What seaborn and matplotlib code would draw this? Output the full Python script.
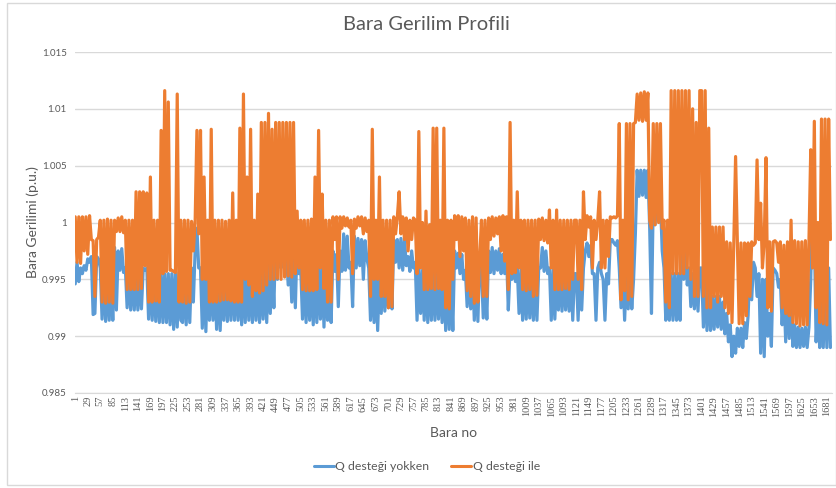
import numpy as np
import pandas as pd
import matplotlib
matplotlib.use("Agg")
import matplotlib.pyplot as plt
import seaborn as sns
from matplotlib.lines import Line2D
from matplotlib.patches import Rectangle

# Bus voltages (p.u.), sampled every 4th bus
q_ile = [
    1.0005, 0.9965, 1.0005, 0.9964, 1.0005, 0.9975, 1.0005, 0.9972, 1.0006, 0.9985,
    0.9984, 0.9935, 0.9985, 0.9987, 1.0002, 0.9930, 1.0002, 0.9929, 1.0003, 0.9930,
    1.0002, 0.9929, 1.0002, 0.9992, 1.0004, 0.9992, 1.0005, 0.9991, 1.0002, 0.9941,
    1.0002, 0.9941, 1.0002, 0.9941, 1.0027, 0.9941, 1.0027, 0.9942, 1.0027, 0.9962,
    1.0026, 0.9930, 1.0040, 0.9930, 1.0002, 0.9931, 1.0002, 0.9930, 1.0081, 0.9955,
    1.0116, 0.9957, 1.0106, 0.9958, 0.9958, 0.9957, 0.9956, 1.0113, 0.9930, 1.0002,
    0.9930, 1.0002, 0.9929, 1.0002, 0.9930, 1.0001, 0.9975, 1.0000, 1.0081, 0.9990,
    1.0081, 0.9950, 1.0040, 0.9950, 1.0002, 0.9930, 1.0082, 0.9930, 1.0002, 0.9930,
    1.0002, 0.9931, 1.0002, 0.9932, 1.0001, 0.9932, 1.0002, 0.9931, 1.0026, 0.9930,
    1.0002, 0.9930, 1.0083, 0.9930, 1.0113, 0.9950, 1.0040, 0.9945, 1.0082, 0.9935,
    1.0002, 0.9940, 1.0025, 0.9938, 1.0088, 0.9940, 1.0088, 0.9945, 1.0096, 0.9950,
    1.0082, 0.9950, 1.0088, 0.9951, 1.0088, 0.9950, 1.0088, 0.9952, 1.0088, 0.9953,
    1.0088, 0.9952, 1.0088, 0.9955, 1.0010, 0.9960, 1.0002, 0.9941, 1.0002, 0.9940,
    1.0002, 0.9940, 1.0003, 0.9940, 1.0040, 0.9941, 1.0081, 0.9960, 1.0025, 0.9942,
    1.0002, 0.9930, 1.0002, 0.9930, 1.0005, 0.9985, 1.0005, 0.9950, 1.0005, 0.9995,
    1.0005, 0.9997, 1.0004, 0.9996, 1.0002, 0.9955, 1.0003, 0.9995, 1.0005, 0.9997,
    1.0005, 0.9990, 1.0004, 0.9992, 1.0002, 0.9935, 1.0082, 0.9950, 1.0002, 0.9950,
    1.0040, 0.9935, 1.0002, 0.9935, 1.0002, 0.9925, 1.0002, 0.9926, 1.0005, 0.9990,
    1.0005, 1.0027, 0.9990, 1.0005, 0.9985, 1.0004, 0.9975, 1.0002, 0.9985, 1.0004,
    1.0002, 0.9955, 1.0080, 0.9960, 1.0000, 0.9941, 1.0010, 0.9941, 0.9998, 0.9942,
    1.0083, 0.9941, 1.0083, 0.9942, 1.0002, 0.9941, 1.0083, 0.9925, 1.0002, 0.9924,
    1.0002, 0.9950, 1.0006, 0.9985, 1.0006, 0.9970, 1.0005, 0.9975, 1.0004, 0.9940,
    1.0002, 0.9935, 1.0005, 0.9929, 1.0004, 0.9930, 0.9968, 1.0002, 0.9935, 1.0002,
    0.9935, 1.0004, 0.9985, 1.0005, 0.9988, 1.0004, 0.9990, 1.0005, 0.9975, 1.0006,
    0.9966, 1.0005, 0.9941, 1.0088, 0.9955, 1.0002, 0.9956, 1.0027, 0.9960, 1.0002,
    0.9941, 1.0002, 0.9940, 1.0002, 0.9941, 1.0002, 0.9935, 1.0002, 0.9936, 1.0003,
    0.9985, 1.0004, 0.9984, 1.0002, 0.9982, 1.0011, 0.9960, 1.0002, 0.9941, 1.0011,
    0.9941, 1.0002, 0.9941, 1.0002, 0.9942, 1.0002, 0.9941, 1.0002, 0.9950, 1.0002,
    1.0002, 0.9950, 1.0002, 0.9941, 1.0027, 0.9985, 1.0006, 0.9996, 1.0005, 0.9960,
    1.0002, 0.9985, 1.0002, 1.0027, 0.9960, 1.0002, 0.9960, 1.0002, 0.9970, 1.0005,
    1.0004, 1.0005, 1.0004, 1.0006, 1.0087, 0.9932, 1.0002, 0.9940, 1.0087, 0.9932,
    1.0087, 0.9935, 1.0087, 1.0088, 1.0113, 1.0090, 1.0114, 1.0089, 1.0115, 1.0090,
    1.0114, 1.0002, 0.9995, 1.0087, 0.9998, 1.0087, 1.0000, 1.0087, 0.9995, 1.0002,
    0.9930, 1.0002, 0.9925, 1.0116, 0.9955, 1.0116, 0.9955, 1.0116, 0.9955, 1.0116,
    0.9955, 1.0116, 0.9960, 1.0116, 0.9950, 1.0100, 0.9935, 1.0088, 0.9935, 1.0116,
    1.0116, 0.9935, 1.0116, 0.9925, 1.0083, 0.9925, 0.9996, 0.9935, 0.9996, 0.9930,
    0.9996, 0.9935, 0.9996, 0.9925, 0.9983, 0.9920, 0.9982, 0.9912, 0.9982, 1.0058,
    0.9982, 0.9911, 0.9982, 0.9911, 0.9982, 0.9918, 0.9982, 0.9935, 0.9983, 0.9980,
    0.9982, 1.0055, 0.9985, 1.0017, 0.9960, 0.9983, 1.0057, 0.9925, 0.9983, 0.9922,
    0.9983, 0.9984, 0.9982, 0.9965, 0.9983, 0.9925, 0.9980, 0.9920, 0.9983, 0.9918,
    1.0002, 0.9912, 0.9984, 0.9911, 0.9983, 0.9909, 0.9983, 0.9910, 0.9984, 0.9910,
    0.9984, 1.0064, 0.9960, 1.0089, 0.9925, 1.0000, 0.9912, 1.0091, 0.9911, 1.0091,
    0.9910, 1.0091, 0.9985,
]

q_yok = [
    0.9946, 0.9965, 0.9948, 0.9960, 0.9955, 0.9962, 0.9958, 0.9968, 0.9965, 0.9970,
    0.9919, 0.9920, 0.9970, 0.9968, 0.9960, 0.9915, 0.9960, 0.9913, 0.9955, 0.9914,
    0.9955, 0.9914, 0.9978, 0.9923, 0.9975, 0.9958, 0.9977, 0.9956, 0.9960, 0.9925,
    0.9960, 0.9923, 0.9960, 0.9923, 0.9960, 0.9923, 0.9958, 0.9924, 0.9960, 0.9958,
    0.9960, 0.9915, 0.9958, 0.9914, 0.9955, 0.9913, 0.9955, 0.9912, 0.9957, 0.9912,
    0.9955, 0.9912, 0.9955, 0.9910, 0.9955, 0.9906, 0.9955, 0.9908, 0.9956, 0.9914,
    0.9912, 0.9955, 0.9910, 0.9955, 0.9912, 0.9960, 0.9930, 0.9975, 0.9995, 0.9960,
    0.9960, 0.9907, 0.9955, 0.9904, 0.9960, 0.9914, 0.9955, 0.9914, 0.9956, 0.9906,
    0.9955, 0.9905, 0.9957, 0.9914, 0.9958, 0.9913, 0.9957, 0.9914, 0.9960, 0.9914,
    0.9955, 0.9914, 0.9958, 0.9910, 0.9960, 0.9912, 0.9958, 0.9914, 0.9957, 0.9912,
    0.9960, 0.9914, 0.9958, 0.9912, 0.9960, 0.9915, 0.9962, 0.9912, 0.9965, 0.9920,
    0.9970, 0.9925, 0.9990, 0.9950, 1.0021, 0.9960, 0.9990, 0.9958, 0.9975, 0.9945,
    0.9970, 0.9930, 0.9975, 0.9925, 0.9985, 0.9955, 0.9960, 0.9915, 0.9958, 0.9912,
    0.9960, 0.9914, 0.9958, 0.9910, 0.9960, 0.9912, 0.9965, 0.9915, 0.9960, 0.9908,
    0.9958, 0.9914, 0.9960, 0.9912, 0.9975, 0.9957, 0.9972, 0.9926, 0.9975, 0.9957,
    0.9990, 0.9958, 0.9988, 0.9960, 0.9965, 0.9926, 0.9988, 0.9960, 0.9986, 0.9962,
    0.9985, 0.9950, 0.9984, 0.9968, 0.9960, 0.9914, 0.9955, 0.9912, 0.9958, 0.9905,
    0.9955, 0.9920, 0.9960, 0.9922, 0.9955, 0.9925, 0.9958, 0.9924, 0.9985, 0.9965,
    0.9985, 0.9960, 0.9986, 0.9958, 0.9985, 0.9962, 0.9970, 0.9957, 0.9975, 0.9960,
    0.9965, 0.9914, 0.9960, 0.9920, 0.9958, 0.9914, 0.9960, 0.9912, 0.9962, 0.9914,
    0.9960, 0.9914, 0.9958, 0.9915, 0.9955, 0.9912, 0.9958, 0.9905, 0.9956, 0.9906,
    0.9955, 0.9905, 0.9975, 0.9960, 0.9973, 0.9955, 0.9972, 0.9950, 0.9958, 0.9926,
    0.9958, 0.9924, 0.9960, 0.9914, 0.9958, 0.9913, 0.9966, 0.9960, 0.9916, 0.9955,
    0.9915, 0.9975, 0.9956, 0.9978, 0.9955, 0.9975, 0.9958, 0.9977, 0.9955, 0.9972,
    0.9955, 0.9972, 0.9923, 0.9960, 0.9950, 0.9962, 0.9948, 0.9960, 0.9920, 0.9958,
    0.9914, 0.9958, 0.9915, 0.9960, 0.9916, 0.9958, 0.9914, 0.9955, 0.9914, 0.9960,
    0.9960, 0.9978, 0.9957, 0.9975, 0.9955, 0.9960, 0.9914, 0.9958, 0.9915, 0.9955,
    0.9923, 0.9958, 0.9922, 0.9960, 0.9923, 0.9955, 0.9922, 0.9958, 0.9914, 0.9955,
    0.9955, 0.9914, 0.9958, 0.9923, 0.9960, 0.9975, 0.9982, 0.9970, 0.9980, 0.9955,
    0.9955, 0.9914, 0.9960, 0.9965, 0.9955, 0.9950, 0.9914, 0.9955, 0.9946, 0.9985,
    0.9985, 0.9982, 0.9980, 0.9984, 0.9960, 0.9925, 0.9955, 0.9914, 0.9958, 0.9924,
    0.9960, 0.9924, 0.9950, 0.9990, 1.0046, 1.0023, 1.0046, 1.0024, 1.0046, 1.0022,
    1.0046, 0.9995, 0.9920, 1.0020, 0.9998, 1.0021, 1.0020, 1.0020, 0.9975, 0.9960,
    0.9914, 0.9950, 0.9914, 0.9955, 0.9914, 0.9955, 0.9914, 0.9955, 0.9914, 1.0005,
    0.9950, 0.9975, 0.9945, 0.9960, 0.9926, 0.9955, 0.9924, 0.9960, 0.9922, 0.9960,
    0.9960, 0.9908, 0.9955, 0.9905, 0.9950, 0.9905, 0.9935, 0.9906, 0.9935, 0.9908,
    0.9935, 0.9906, 0.9930, 0.9902, 0.9920, 0.9895, 0.9910, 0.9882, 0.9900, 0.9885,
    0.9907, 0.9891, 0.9907, 0.9890, 0.9912, 0.9898, 0.9918, 0.9962, 0.9932, 0.9965,
    0.9960, 0.9935, 0.9955, 0.9885, 0.9950, 0.9882, 0.9950, 0.9900, 0.9920, 0.9891,
    0.9960, 0.9958, 0.9955, 0.9943, 0.9950, 0.9910, 0.9940, 0.9895, 0.9945, 0.9898,
    0.9950, 0.9891, 0.9910, 0.9890, 0.9908, 0.9890, 0.9907, 0.9891, 0.9908, 0.9890,
    0.9908, 0.9950, 1.0023, 0.9990, 0.9895, 0.9930, 0.9890, 0.9950, 0.9890, 0.9955,
    0.9890, 0.9960, 0.9890,
]

bara_no = np.arange(1, 4 * len(q_ile), 4)
series_names = ["Q desteği yokken", "Q desteği ile"]
series_colors = ["#5B9BD5", "#ED7D31"]
x_ticks = list(range(1, 1682, 28))
y_ticks = [0.985, 0.99, 0.995, 1.0, 1.005, 1.01, 1.015]
y_tick_labels = ["0.985", "0.99", "0.995", "1", "1.005", "1.01", "1.015"]

df = pd.concat([
    pd.DataFrame({"Bara": bara_no, "Gerilim": q_yok, "Durum": series_names[0]}),
    pd.DataFrame({"Bara": bara_no, "Gerilim": q_ile, "Durum": series_names[1]}),
], ignore_index=True)

sns.set_style("white")
plt.rcParams["font.family"] = ["Lato", "DejaVu Sans"]
text_gray = "#595959"
grid_gray = "#D9D9D9"

fig = plt.figure(figsize=(8.37, 4.88), dpi=100)
fig.patches.append(Rectangle((7 / 837, 3 / 488), 829 / 837, 482 / 488,
                             transform=fig.transFigure, fill=False,
                             edgecolor=grid_gray, linewidth=1.0))
ax = fig.add_axes([75 / 837, 1 - 393 / 488, 757 / 837, 341 / 488])

sns.lineplot(data=df, x="Bara", y="Gerilim", hue="Durum",
             palette=dict(zip(series_names, series_colors)),
             estimator=None, sort=False, linewidth=2.3, ax=ax, legend=False)

ax.set_xlim(0.5, 1692.5)
ax.set_ylim(0.985, 1.015)
ax.set_yticks(y_ticks)
ax.set_yticklabels(y_tick_labels)
ax.set_xticks(x_ticks)
ax.set_xticklabels([str(t) for t in x_ticks], rotation=90,
                   fontfamily="Liberation Serif", fontsize=7.5, color=text_gray)
for lbl in ax.get_yticklabels():
    lbl.set_fontsize(7)
    lbl.set_color(text_gray)
ax.tick_params(axis="both", length=0)
ax.tick_params(axis="x", pad=2)
ax.tick_params(axis="y", pad=6)
ax.yaxis.grid(True, color=grid_gray, linewidth=1.0)
ax.set_axisbelow(True)
for side in ["top", "right", "left"]:
    ax.spines[side].set_visible(False)
ax.spines["bottom"].set_color(grid_gray)
ax.set_xlabel("")
ax.set_ylabel("")

fig.text(454 / 837, 1 - 433 / 488, "Bara no", ha="center", va="center",
         fontsize=10, color=text_gray)
fig.text(33 / 837, 1 - 222 / 488, "Bara Gerilimi (p.u.)", ha="center", va="center",
         rotation=90, fontsize=10, color=text_gray)
fig.text(426 / 837, 1 - 25 / 488, "Bara Gerilim Profili", ha="center", va="center",
         fontsize=14.5, color=text_gray)

handles = [Line2D([0], [0], color=c, linewidth=2.2) for c in series_colors]
fig.legend(handles, series_names, loc="center", ncol=2, frameon=False,
           bbox_to_anchor=(427 / 837, 1 - 467 / 488), fontsize=8.8,
           labelcolor=text_gray, handlelength=1.6, handletextpad=0.15,
           columnspacing=1.8)

fig.savefig("out.png", dpi=100)
